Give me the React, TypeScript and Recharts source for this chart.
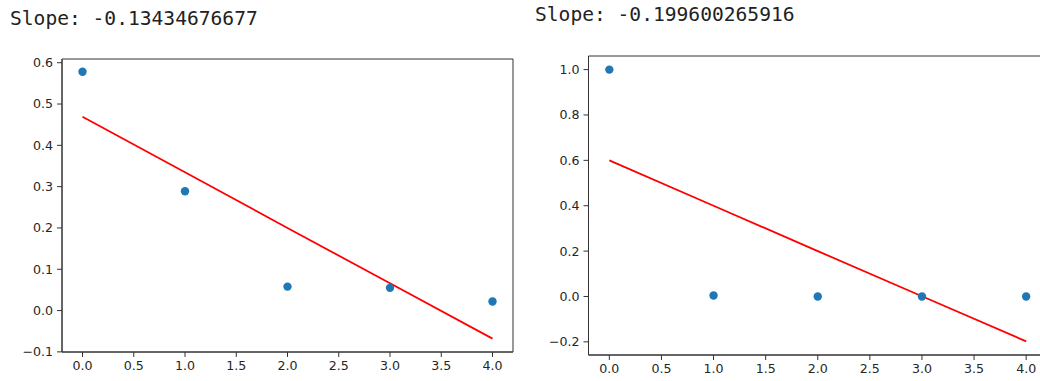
import React from "react";
import { ComposedChart, Scatter, Line, XAxis, YAxis, ReferenceArea } from "recharts";

// values
const xValues = [0, 1, 2, 3, 4];
const leftPoints = [0.578, 0.289, 0.058, 0.055, 0.022];
const leftFit = [0.469, 0.335, 0.2, 0.066, -0.068];
const rightPoints = [1.0, 0.004, 0.0, 0.0, 0.0];
const rightFit = [0.6, 0.4, 0.2, 0.001, -0.198];

const xTicks = [0, 0.5, 1, 1.5, 2, 2.5, 3, 3.5, 4];
const leftYTicks = [-0.1, 0, 0.1, 0.2, 0.3, 0.4, 0.5, 0.6];
const rightYTicks = [-0.2, 0, 0.2, 0.4, 0.6, 0.8, 1.0];

const leftTitle = "Slope: -0.13434676677";
const rightTitle = "Slope: -0.199600265916";

const fmt = (v: number) =>
  v < -1e-9 ? "\u2212" + Math.abs(v).toFixed(1) : Math.abs(v).toFixed(1);

const tickStyle = { fill: "#262626", fontSize: 12.6, fontFamily: "DejaVu Sans" };
const ink = "#333";

const Dot = (props: any) => <circle cx={props.cx} cy={props.cy} r={4.2} fill="#1f77b4" />;

interface PanelProps {
  left: number;
  width: number;
  top: number;
  bottom: number;
  plotLeft: number;
  plotRight: number;
  yDomain: [number, number];
  yTicks: number[];
  points: number[];
  fit: number[];
  title: string;
  titleLeft: number;
  titleTop: number;
}

const Panel: React.FC<PanelProps> = (p) => {
  const height = 381;
  const data = xValues.map((x, i) => ({ x, y: p.points[i], fit: p.fit[i] }));
  return (
    <>
      <div
        style={{
          position: "absolute",
          left: p.titleLeft,
          top: p.titleTop,
          fontFamily: "DejaVu Sans Mono",
          fontSize: 19.6,
          lineHeight: "20px",
          color: "#222",
          whiteSpace: "pre",
        }}
      >
        {p.title}
      </div>
      <div style={{ position: "absolute", left: p.left, top: 0 }}>
        <ComposedChart
          width={p.width}
          height={height}
          data={data}
          margin={{ top: p.top, left: 0, right: p.width - p.plotRight, bottom: 0 }}
        >
          <ReferenceArea
            x1={-0.2}
            x2={4.2}
            y1={p.yDomain[0]}
            y2={p.yDomain[1]}
            fill="none"
            stroke={ink}
            strokeWidth={1}
            ifOverflow="visible"
          />
          <XAxis
            type="number"
            dataKey="x"
            domain={[-0.2, 4.2]}
            ticks={xTicks}
            interval={0}
            allowDataOverflow
            tickFormatter={fmt}
            tickSize={5}
            tickMargin={4}
            axisLine={{ stroke: ink }}
            tickLine={{ stroke: ink }}
            tick={tickStyle}
            height={height - p.bottom}
          />
          <YAxis
            type="number"
            domain={p.yDomain}
            ticks={p.yTicks}
            interval={0}
            allowDataOverflow
            tickFormatter={fmt}
            tickSize={5}
            tickMargin={4}
            axisLine={{ stroke: ink }}
            tickLine={{ stroke: ink }}
            tick={tickStyle}
            width={p.plotLeft}
          />
          <Scatter dataKey="y" shape={Dot} isAnimationActive={false} />
          <Line
            type="linear"
            dataKey="fit"
            stroke="#ff0000"
            strokeWidth={1.8}
            dot={false}
            activeDot={false}
            isAnimationActive={false}
          />
        </ComposedChart>
      </div>
    </>
  );
};

export default function App() {
  return (
    <div
      style={{
        position: "fixed",
        left: 0,
        top: 0,
        width: 1040,
        height: 381,
        overflow: "hidden",
        background: "#fff",
      }}
    >
      <Panel
        left={0}
        width={540}
        top={59}
        bottom={352}
        plotLeft={62}
        plotRight={513}
        yDomain={[-0.1003, 0.609]}
        yTicks={leftYTicks}
        points={leftPoints}
        fit={leftFit}
        title={leftTitle}
        titleLeft={10}
        titleTop={9}
      />
      <Panel
        left={520}
        width={560}
        top={56}
        bottom={355}
        plotLeft={68.5}
        plotRight={527}
        yDomain={[-0.258, 1.06]}
        yTicks={rightYTicks}
        points={rightPoints}
        fit={rightFit}
        title={rightTitle}
        titleLeft={535}
        titleTop={5}
      />
    </div>
  );
}
